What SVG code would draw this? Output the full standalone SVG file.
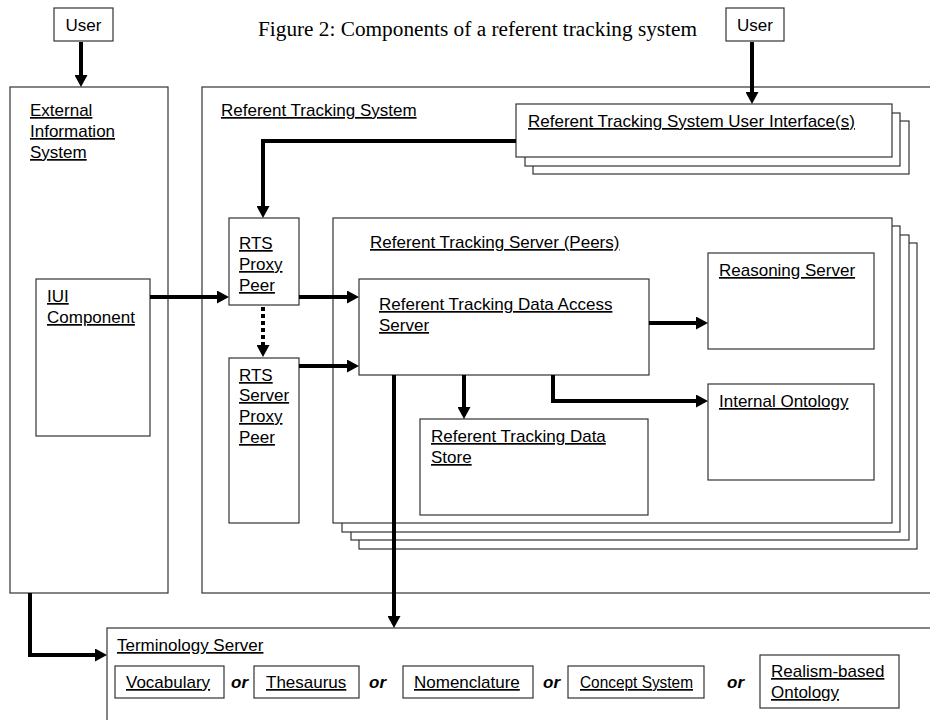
<svg xmlns="http://www.w3.org/2000/svg" width="930" height="720" viewBox="0 0 930 720">
  <style>
    .box { fill: #ffffff; stroke: #333333; stroke-width: 1.2; }
    .lbl { font-family: "Liberation Sans", Arial, sans-serif; font-size: 17px; fill: #000000; text-decoration: underline; }
    .plain { font-family: "Liberation Sans", Arial, sans-serif; font-size: 17px; fill: #000000; }
    .or { font-family: "Liberation Sans", Arial, sans-serif; font-size: 17px; font-weight: bold; font-style: italic; fill: #000000; }
    .title { font-family: "Liberation Serif", "Times New Roman", serif; font-size: 20px; fill: #000000; }
    .wire { fill: none; stroke: #000000; stroke-width: 4; stroke-linejoin: miter; marker-end: url(#head); }
    .dotted { stroke-dasharray: 4 3; }
  </style>
  <defs>
    <marker id="head" viewBox="0 0 12 13" refX="3" refY="6.5" markerWidth="12" markerHeight="13" markerUnits="userSpaceOnUse" orient="auto">
      <path d="M0,0 L12,6.5 L0,13 z" fill="#000000"/>
    </marker>
  </defs>

  <rect width="930" height="720" fill="#ffffff"/>

  <text class="title" x="258" y="36" textLength="439" lengthAdjust="spacingAndGlyphs">Figure 2: Components of a referent tracking system</text>

  <!-- actors -->
  <g id="user-left">
    <rect class="box" x="54" y="8" width="59" height="33"/>
    <text class="plain" x="83.5" y="31" text-anchor="middle">User</text>
  </g>
  <g id="user-right">
    <rect class="box" x="726" y="8" width="58" height="33"/>
    <text class="plain" x="755" y="31" text-anchor="middle">User</text>
  </g>

  <!-- external information system -->
  <g id="external-information-system">
    <rect class="box" x="10" y="87" width="158" height="506"/>
    <text class="lbl" x="30" y="116">External</text>
    <text class="lbl" x="30" y="137">Information</text>
    <text class="lbl" x="30" y="158">System</text>
  </g>
  <g id="iui-component">
    <rect class="box" x="36" y="279" width="114" height="157"/>
    <text class="lbl" x="47" y="302">IUI</text>
    <text class="lbl" x="47" y="323">Component</text>
  </g>

  <!-- referent tracking system -->
  <g id="referent-tracking-system">
    <rect class="box" x="202" y="87" width="760" height="506"/>
    <text class="lbl" x="221" y="116">Referent Tracking System</text>
  </g>
  <g id="rts-user-interfaces">
    <rect class="box" x="533" y="121" width="376" height="53"/>
    <rect class="box" x="525" y="113" width="375" height="53"/>
    <rect class="box" x="516" y="104" width="376" height="53"/>
    <text class="lbl" x="528" y="127">Referent Tracking System User Interface(s)</text>
  </g>
  <g id="rts-proxy-peer">
    <rect class="box" x="229" y="218" width="70" height="87"/>
    <text class="lbl" x="239" y="249">RTS</text>
    <text class="lbl" x="239" y="270">Proxy</text>
    <text class="lbl" x="239" y="291">Peer</text>
  </g>
  <g id="rts-server-proxy-peer">
    <rect class="box" x="229" y="358" width="70" height="165"/>
    <text class="lbl" x="239" y="381">RTS</text>
    <text class="lbl" x="239" y="401">Server</text>
    <text class="lbl" x="239" y="422">Proxy</text>
    <text class="lbl" x="239" y="443">Peer</text>
  </g>
  <g id="referent-tracking-server">
    <rect class="box" x="359" y="243" width="558" height="306"/>
    <rect class="box" x="351" y="235" width="558" height="305"/>
    <rect class="box" x="342" y="226" width="558" height="306"/>
    <rect class="box" x="333" y="218" width="559" height="305"/>
    <text class="lbl" x="370" y="248">Referent Tracking Server (Peers)</text>
  </g>
  <g id="data-access-server">
    <rect class="box" x="359" y="279" width="290" height="96"/>
    <text class="lbl" x="379" y="310">Referent Tracking Data Access</text>
    <text class="lbl" x="379" y="331">Server</text>
  </g>
  <g id="reasoning-server">
    <rect class="box" x="708" y="253" width="166" height="96"/>
    <text class="lbl" x="719" y="276">Reasoning Server</text>
  </g>
  <g id="internal-ontology">
    <rect class="box" x="708" y="384" width="166" height="96"/>
    <text class="lbl" x="719" y="407">Internal Ontology</text>
  </g>
  <g id="data-store">
    <rect class="box" x="420" y="419" width="228" height="96"/>
    <text class="lbl" x="431" y="442">Referent Tracking Data</text>
    <text class="lbl" x="431" y="463">Store</text>
  </g>

  <!-- terminology server -->
  <g id="terminology-server">
    <rect class="box" x="107" y="628" width="840" height="110"/>
    <text class="lbl" x="117" y="651">Terminology Server</text>
  </g>
  <g id="vocabulary">
    <rect class="box" x="115" y="666" width="109" height="32"/>
    <text class="lbl" x="126" y="688">Vocabulary</text>
  </g>
  <g id="thesaurus">
    <rect class="box" x="254" y="666" width="105" height="32"/>
    <text class="lbl" x="266" y="688">Thesaurus</text>
  </g>
  <g id="nomenclature">
    <rect class="box" x="403" y="666" width="130" height="32"/>
    <text class="lbl" x="414" y="688">Nomenclature</text>
  </g>
  <g id="concept-system">
    <rect class="box" x="568" y="666" width="136" height="32"/>
    <text class="lbl" x="580" y="688" textLength="113" lengthAdjust="spacingAndGlyphs">Concept System</text>
  </g>
  <g id="realism-based-ontology">
    <rect class="box" x="760" y="655" width="139" height="53"/>
    <text class="lbl" x="771" y="677">Realism-based</text>
    <text class="lbl" x="771" y="698">Ontology</text>
  </g>
  <g id="alternatives">
    <text class="or" x="231" y="688">or</text>
    <text class="or" x="369" y="688">or</text>
    <text class="or" x="543" y="688">or</text>
    <text class="or" x="727" y="688">or</text>
  </g>

  <!-- connectors -->
  <g id="connectors">
    <path class="wire" d="M81,42 V78"/>
    <path class="wire" d="M752,42 V95"/>
    <path class="wire" d="M516,141 H263 V209"/>
    <path class="wire" d="M150,297 H220"/>
    <path class="wire" d="M299,297 H350"/>
    <path class="wire" d="M299,366 H350"/>
    <path class="wire dotted" d="M263,307 V348"/>
    <path class="wire" d="M649,323 H699"/>
    <path class="wire" d="M464,375 V410"/>
    <path class="wire" d="M553,375 V401 H699"/>
    <path class="wire" d="M394,375 V619"/>
    <path class="wire" d="M30,593 V655 H98"/>
  </g>
</svg>
